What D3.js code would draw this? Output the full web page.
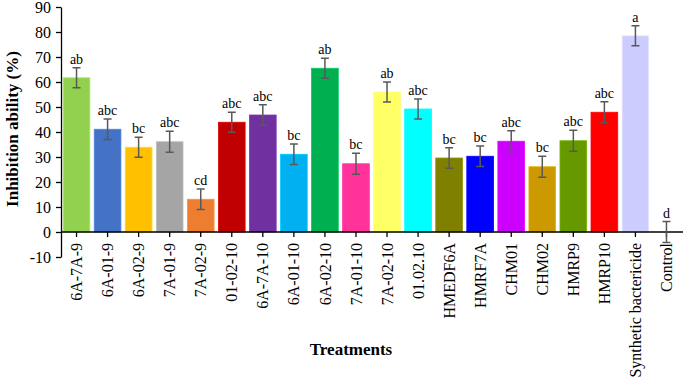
<!DOCTYPE html>
<html>
<head>
<meta charset="utf-8">
<script src="https://cdn.jsdelivr.net/npm/d3@7"></script>
<style>
  body { margin: 0; background: #fff; }
  text { font-family: "Liberation Serif", "Times New Roman", serif; }
</style>
</head>
<body>
<div id="chart"></div>
<script>
// Data
var treatments = ["6A-7A-9", "6A-01-9", "6A-02-9", "7A-01-9", "7A-02-9", "01-02-10", "6A-7A-10",
  "6A-01-10", "6A-02-10", "7A-01-10", "7A-02-10", "01.02.10", "HMEDF6A", "HMRF7A", "CHM01",
  "CHM02", "HMRP9", "HMRP10", "Synthetic bactericide", "Control"];
var inhibition = [61.7, 41.1, 33.9, 36.1, 13.1, 43.9, 46.8, 31.1, 65.5, 27.3, 56.0, 49.2, 29.6,
  30.3, 36.3, 26.1, 36.5, 47.9, 78.5, 0];
var errors = [4, 4.1, 4, 4.2, 4.1, 4, 4.1, 4.1, 4, 4.2, 4, 4, 4.1, 4.1, 4.2, 4.2, 4.2, 4.2, 4, 4.2];
var letters = ["ab", "abc", "bc", "abc", "cd", "abc", "abc", "bc", "ab", "bc", "ab", "abc", "bc",
  "bc", "abc", "bc", "abc", "abc", "a", "d"];
var barColors = ["#92d050", "#4472c4", "#ffc000", "#a5a5a5", "#ed7d31", "#c00000", "#7030a0",
  "#00b0f0", "#00b050", "#ff3399", "#ffff66", "#00ffff", "#808000", "#0000ff", "#cc00ff",
  "#cc9900", "#669900", "#ff0000", "#ccccff", "#ffffff"];
var yTicks = [-10, 0, 10, 20, 30, 40, 50, 60, 70, 80, 90];

var W = 685, H = 383;
var svg = d3.select("#chart").append("svg")
  .attr("width", W)
  .attr("height", H);

var x = d3.scaleBand()
  .domain(treatments)
  .range([61, 682])
  .paddingInner(0.14)
  .paddingOuter(0.07);

var y = d3.scaleLinear()
  .domain([-10, 90])
  .range([257, 7]);

// Bars
svg.append("g")
  .selectAll("rect")
  .data(treatments)
  .enter().append("rect")
    .attr("x", d => x(d))
    .attr("width", x.bandwidth())
    .attr("y", (d, i) => y(Math.max(0, inhibition[i])))
    .attr("height", (d, i) => Math.abs(y(inhibition[i]) - y(0)))
    .attr("fill", (d, i) => barColors[i])
    .attr("stroke", (d, i) => d3.color(barColors[i]).brighter(0.4))
    .attr("stroke-width", 0.8);

// Y axis (plain hyphen for negatives, like the original)
var yAxis = svg.append("g")
  .attr("transform", "translate(61,0)")
  .call(d3.axisLeft(y).tickValues(yTicks).tickFormat(d => String(d))
    .tickSize(5).tickSizeOuter(0).tickPadding(5));
yAxis.selectAll("text").attr("font-size", 16).attr("fill", "#000")
  .style("font-family", "'Liberation Serif', 'Times New Roman', serif");
yAxis.selectAll("line, path").attr("stroke", "#000").attr("stroke-width", 1.3);

// X axis at zero
var xAxis = svg.append("g")
  .attr("transform", "translate(0," + y(0) + ")")
  .call(d3.axisBottom(x).tickSize(5).tickSizeOuter(0));
xAxis.select("path").attr("d", "M61,0H683");
xAxis.selectAll("line, path").attr("stroke", "#000").attr("stroke-width", 1.3);
xAxis.selectAll("text")
  .attr("font-size", 16)
  .attr("fill", "#000")
  .style("font-family", "'Liberation Serif', 'Times New Roman', serif")
  .attr("text-anchor", "end")
  .attr("transform", "rotate(-90)")
  .attr("x", -11)
  .attr("y", 0)
  .attr("dy", "0.35em");

// Error bars
var eb = svg.append("g").attr("stroke", "#595959").attr("stroke-width", 1.5);
treatments.forEach(function (t, i) {
  var cx = x(t) + x.bandwidth() / 2;
  var top = y(inhibition[i] + errors[i]), bot = y(inhibition[i] - errors[i]);
  eb.append("line").attr("x1", cx).attr("x2", cx).attr("y1", top).attr("y2", bot);
  eb.append("line").attr("x1", cx - 4).attr("x2", cx + 4).attr("y1", top).attr("y2", top);
  eb.append("line").attr("x1", cx - 4).attr("x2", cx + 4).attr("y1", bot).attr("y2", bot);
});

// Significance letters
svg.append("g")
  .selectAll("text")
  .data(treatments)
  .enter().append("text")
    .attr("x", d => x(d) + x.bandwidth() / 2)
    .attr("y", (d, i) => y(inhibition[i] + errors[i]) - 4)
    .attr("text-anchor", "middle")
    .attr("font-size", 14)
    .attr("fill", "#000")
    .text((d, i) => letters[i]);

// Axis titles
svg.append("text")
  .attr("transform", "rotate(-90)")
  .attr("x", -129)
  .attr("y", 18)
  .attr("text-anchor", "middle")
  .attr("font-size", 17)
  .attr("font-weight", "bold")
  .text("Inhibition ability (%)");

svg.append("text")
  .attr("x", 351)
  .attr("y", 355)
  .attr("text-anchor", "middle")
  .attr("font-size", 17)
  .attr("font-weight", "bold")
  .text("Treatments");
</script>
</body>
</html>
